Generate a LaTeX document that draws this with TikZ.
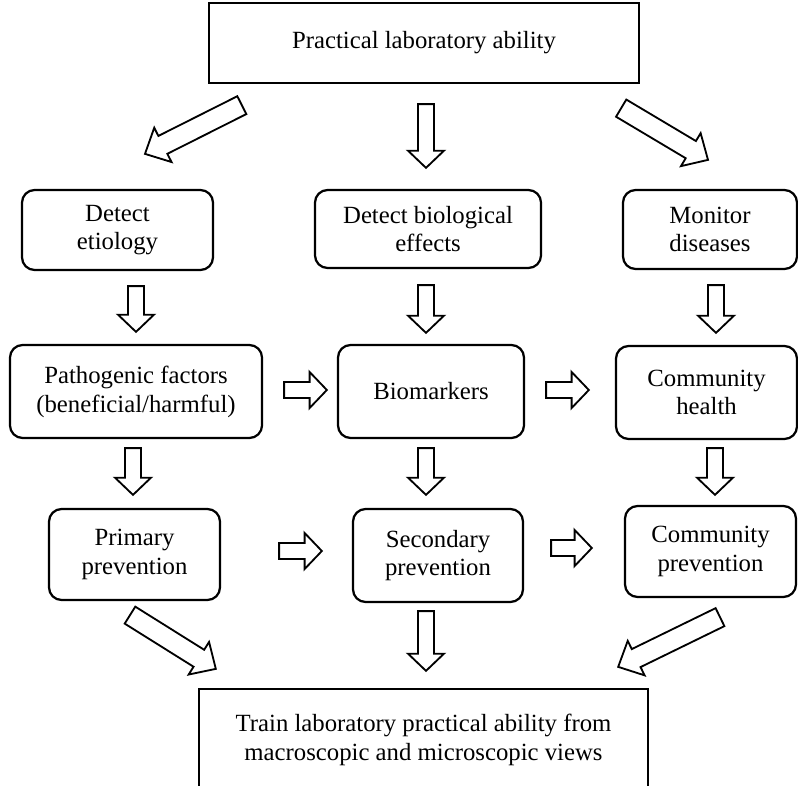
\documentclass[tikz,border=0pt]{standalone}
\usepackage{fontspec}
\setmainfont{Liberation Serif}
\usetikzlibrary{calc}

\tikzset{
  stagebox/.style={draw, line width=1.6pt, rounded corners=9pt, align=center,
    inner sep=2pt, font=\fontsize{17.6}{20.5}\selectfont},
  titlebox/.style={stagebox, sharp corners},
  fatline/.style={draw, line width=1.3pt, line join=miter, fill=white}
}

% hollow block arrow from #1 to its tip #2
\newcommand{\faShaft}{0.2cm}
\newcommand{\faHead}{0.45cm}
\newcommand{\faLen}{0.43cm}
\newcommand{\fatarrow}[2]{%
  \coordinate (fa-s) at (#1);
  \coordinate (fa-e) at (#2);
  \coordinate (fa-h) at ($(fa-e)!\faLen!(fa-s)$);
  \draw[fatline] ($(fa-s)!\faShaft!90:(fa-e)$) -- ($(fa-h)!\faShaft!90:(fa-e)$)
    -- ($(fa-h)!\faHead!90:(fa-e)$) -- (fa-e)
    -- ($(fa-h)!\faHead!-90:(fa-e)$) -- ($(fa-h)!\faShaft!-90:(fa-e)$)
    -- ($(fa-s)!\faShaft!-90:(fa-e)$) -- cycle;
}

\begin{document}
\begin{tikzpicture}[x=0.025cm,y=-0.025cm]
\useasboundingbox (0,0) rectangle (798,785);

% boxes
\node[titlebox,minimum width=10.75cm,minimum height=2cm] (top) at (424,43)
  {Practical laboratory ability};

\node[stagebox,minimum width=4.775cm,minimum height=2cm] (etiology) at (117.5,230)
  {Detect\\etiology};
\node[stagebox,minimum width=5.65cm,minimum height=1.95cm] (biological) at (428,229)
  {Detect biological\\effects};
\node[stagebox,minimum width=4.35cm,minimum height=1.975cm] (monitor) at (710,229.5)
  {Monitor\\diseases};

\node[stagebox,minimum width=6.3cm,minimum height=2.325cm] (pathogenic) at (136,391.5)
  {Pathogenic factors\\(beneficial/harmful)};
\node[stagebox,minimum width=4.65cm,minimum height=2.325cm] (biomarkers) at (431,391.5)
  {Biomarkers};
\node[stagebox,minimum width=4.525cm,minimum height=2.325cm] (commhealth) at (706.5,392.5)
  {Community\\health};

\node[stagebox,minimum width=4.275cm,minimum height=2.275cm] (primary) at (134.5,554.5)
  {Primary\\prevention};
\node[stagebox,minimum width=4.25cm,minimum height=2.325cm] (secondary) at (438,555.5)
  {Secondary\\prevention};
\node[stagebox,minimum width=4.275cm,minimum height=2.275cm] (commprev) at (710.5,551.5)
  {Community\\prevention};

\node[titlebox,minimum width=11.225cm,minimum height=2.525cm] (bottom) at (423.5,739.5)
  {Train laboratory practical ability from\\macroscopic and microscopic views};

% downward arrows
\fatarrow{$(top.south)+(2,20)$}{$(biological.north)+(-2,-21)$}
\fatarrow{$(etiology.south)+(18.5,15)$}{$(pathogenic.north)+(0,-12)$}
\fatarrow{$(biological.south)+(-2,16)$}{$(biomarkers.north)+(-5,-11)$}
\fatarrow{$(monitor.south)+(6,15)$}{$(commhealth.north)+(9.5,-12)$}
\fatarrow{$(pathogenic.south)+(-3,9)$}{$(primary.north)+(-1.5,-13)$}
\fatarrow{$(biomarkers.south)+(-5,9)$}{$(secondary.north)+(-12,-13)$}
\fatarrow{$(commhealth.south)+(8.5,8)$}{$(commprev.north)+(4.5,-10)$}
\fatarrow{$(secondary.south)+(-12,8)$}{$(bottom.north)+(2.5,-17)$}

% sideways arrows
\fatarrow{$(pathogenic.east)+(21,-1.5)$}{$(biomarkers.west)+(-10,-1.5)$}
\fatarrow{$(biomarkers.east)+(21,-1.5)$}{$(commhealth.west)+(-26,-2.5)$}
\fatarrow{$(primary.east)+(58,-3.5)$}{$(secondary.west)+(-30,-4.5)$}
\fatarrow{$(secondary.east)+(27,-7.5)$}{$(commprev.west)+(-32,-3.5)$}

% slanted arrows
\begin{scope}
\renewcommand{\faShaft}{0.25cm}
\renewcommand{\faHead}{0.48cm}
\renewcommand{\faLen}{0.5cm}
\fatarrow{$(top.south west)+(34,21)$}{$(etiology.north)+(27.5,-35)$}
\fatarrow{$(top.south east)+(-19,24)$}{$(monitor.north)+(-2,-29)$}
\fatarrow{$(primary.south)+(-4.5,14)$}{$(bottom.north west)+(18,-19)$}
\fatarrow{$(commprev.south)+(9.5,19)$}{$(bottom.north east)+(-31,-21)$}
\end{scope}

\end{tikzpicture}
\end{document}
